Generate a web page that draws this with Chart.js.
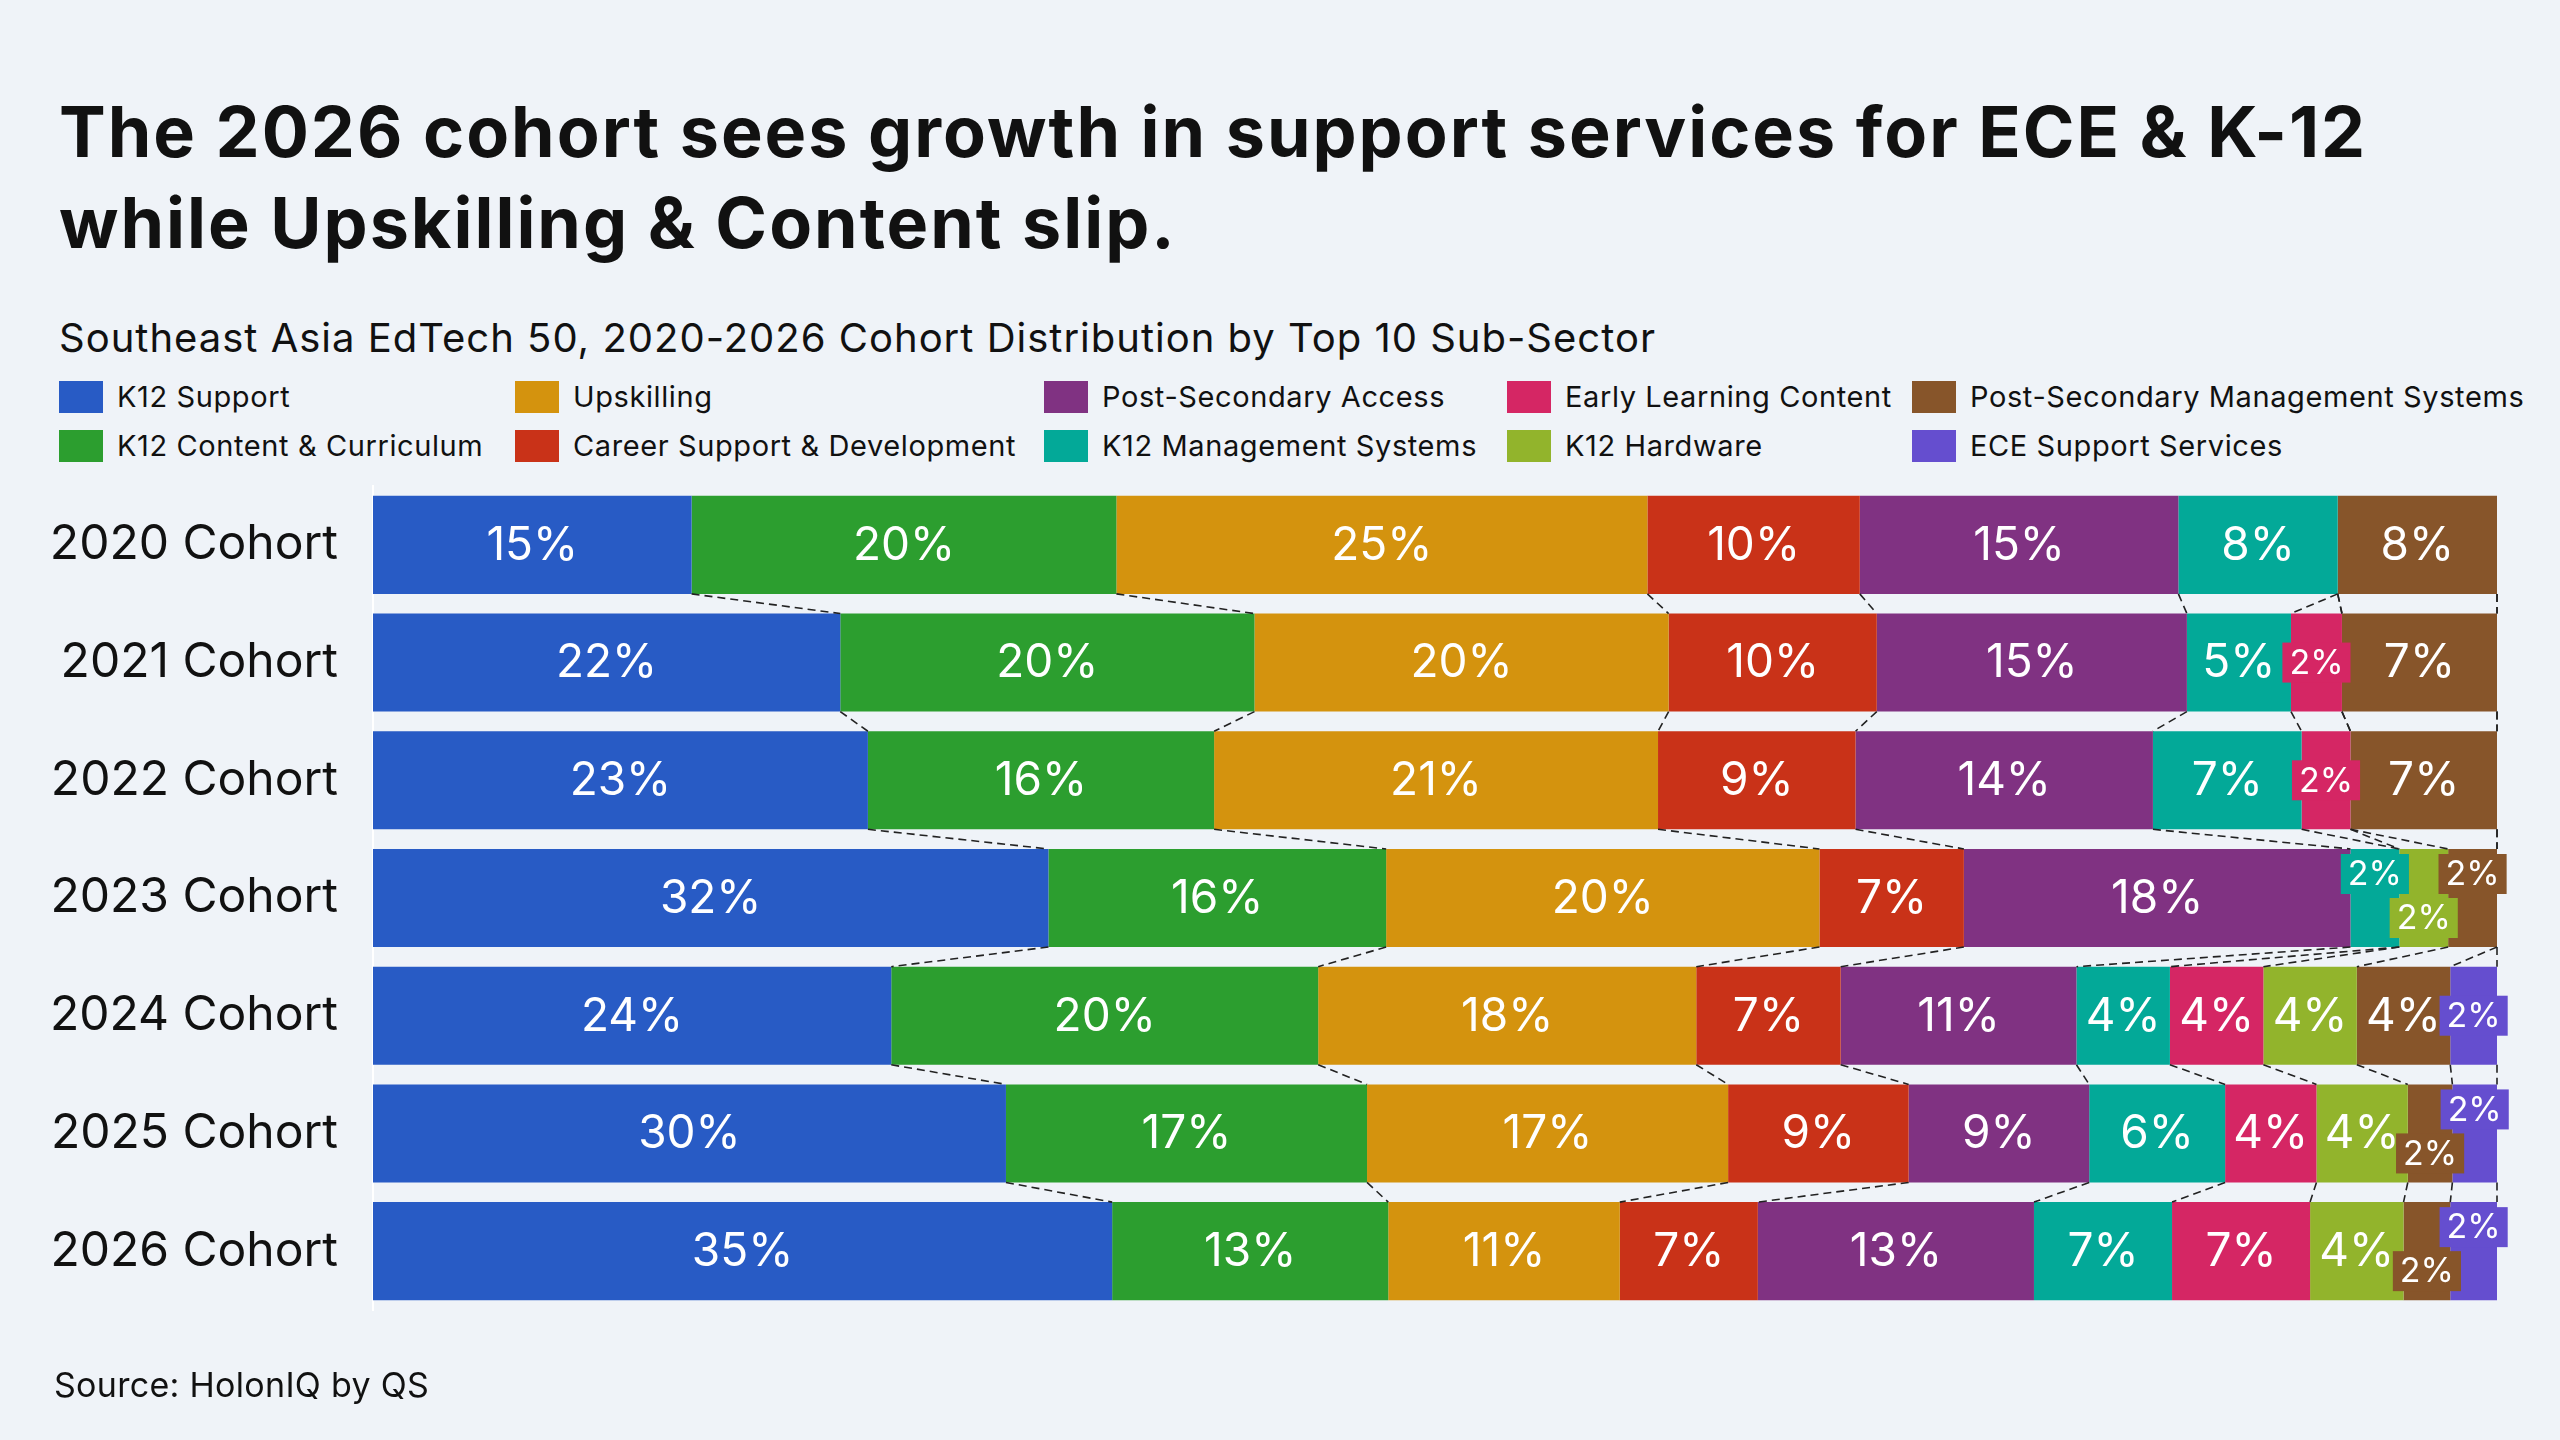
<!DOCTYPE html>
<html>
<head>
<meta charset="utf-8">
<script src="https://cdn.jsdelivr.net/npm/chart.js@4.4.1/dist/chart.umd.min.js"></script>
<style>
  html, body { margin: 0; padding: 0; background: #eff3f8; }
  body { width: 2560px; height: 1440px; position: relative; overflow: hidden;
         font-family: Inter, "Noto Sans", sans-serif; color: #111; }
  #title { position: absolute; left: 59px; top: 86px; margin: 0;
           font-size: 70px; line-height: 91px; font-weight: 700; letter-spacing: 2px; }
  #subtitle { position: absolute; left: 59px; top: 314px; margin: 0;
              font-size: 40px; line-height: 47px; font-weight: 400; letter-spacing: 1px; }
  #legend { position: absolute; left: 59px; top: 381px;
            display: grid; grid-template-columns: 456px 529px 463px 405px auto;
            grid-template-rows: 32px 32px; row-gap: 17px; grid-auto-flow: column; }
  .item { display: flex; align-items: center; font-size: 29px; line-height: 32px;
          letter-spacing: 0.6px; white-space: nowrap; }
  .swatch { width: 44px; height: 32px; margin-right: 14px; flex: none; }
  #source { position: absolute; left: 54px; top: 1365px; font-size: 34px; line-height: 40px; letter-spacing: 0.3px; }
  #wrap { position: absolute; left: 0; top: 0; width: 2560px; height: 1440px; }
</style>
</head>
<body>
<h1 id="title">The 2026 cohort sees growth in support services for ECE &amp; K-12<br>while Upskilling &amp; Content slip.</h1>
<div id="subtitle">Southeast Asia EdTech 50, 2020-2026 Cohort Distribution by Top 10 Sub-Sector</div>
<div id="legend"></div>
<div id="wrap"><canvas id="chart" width="2560" height="1440"></canvas></div>
<div id="source">Source: HolonIQ by QS</div>

<script>
// Cohorts (rows) and sub-sectors (stack order, left to right)
const cohorts = ['2020 Cohort', '2021 Cohort', '2022 Cohort', '2023 Cohort', '2024 Cohort', '2025 Cohort', '2026 Cohort'];
const subSectors = ['K12 Support', 'K12 Content & Curriculum', 'Upskilling', 'Career Support & Development',
  'Post-Secondary Access', 'K12 Management Systems', 'Early Learning Content', 'K12 Hardware',
  'Post-Secondary Management Systems', 'ECE Support Services'];

// Share of each cohort, % (2020 .. 2026)
const k12Support    = [15.0, 22.0, 23.3, 31.8, 24.4, 29.8, 34.8];
const k12Content    = [20.0, 19.5, 16.3, 15.9, 20.1, 17.0, 13.0];
const upskilling    = [25.0, 19.5, 20.9, 20.4, 17.8, 17.0, 10.9];
const careerSupport = [10.0,  9.8,  9.3,  6.8,  6.8,  8.5,  6.5];
const psAccess      = [15.0, 14.6, 14.0, 18.2, 11.1,  8.5, 13.0];
const k12Mgmt       = [ 7.5,  4.9,  7.0,  2.3,  4.4,  6.4,  6.5];
const earlyLearning = [ 0.0,  2.4,  2.3,  0.0,  4.4,  4.3,  6.5];
const k12Hardware   = [ 0.0,  0.0,  0.0,  2.3,  4.4,  4.3,  4.4];
const psMgmt        = [ 7.5,  7.3,  6.9,  2.3,  4.4,  2.1,  2.2];
const eceSupport    = [ 0.0,  0.0,  0.0,  0.0,  2.2,  2.1,  2.2];

const seriesValues = [k12Support, k12Content, upskilling, careerSupport, psAccess,
  k12Mgmt, earlyLearning, k12Hardware, psMgmt, eceSupport];
const colors = ['#285bc5', '#2c9e2f', '#d4930e', '#c93218', '#803282',
  '#03a998', '#d52664', '#92b42c', '#87552a', '#654ecf'];

// HTML legend, two rows filled column by column
const legendEl = document.getElementById('legend');
subSectors.forEach((name, i) => {
  const item = document.createElement('div');
  item.className = 'item';
  const sw = document.createElement('span');
  sw.className = 'swatch';
  sw.style.background = colors[i];
  item.appendChild(sw);
  item.appendChild(document.createTextNode(name));
  legendEl.appendChild(item);
});

const FONT = 'Inter, "Noto Sans", sans-serif';

// dashed lines joining the segment boundaries of neighbouring bars
const connectors = {
  id: 'connectors',
  afterDatasetsDraw(chart) {
    const ctx = chart.ctx;
    const xs = chart.scales.x;
    const ref = chart.getDatasetMeta(0).data;
    ctx.save();
    ctx.strokeStyle = '#222';
    ctx.lineWidth = 1.6;
    ctx.setLineDash([8, 5]);
    for (let i = 0; i < cohorts.length - 1; i++) {
      const y0 = ref[i].y + ref[i].height / 2;
      const y1 = ref[i + 1].y - ref[i + 1].height / 2;
      let c0 = 0, c1 = 0;
      seriesValues.forEach(vals => {
        c0 += vals[i];
        c1 += vals[i + 1];
        ctx.beginPath();
        ctx.moveTo(xs.getPixelForValue(c0), y0);
        ctx.lineTo(xs.getPixelForValue(c1), y1);
        ctx.stroke();
      });
    }
    ctx.restore();
  }
};

// percentage labels inside segments; small ones get a colour box and are staggered
const segmentLabels = {
  id: 'segmentLabels',
  afterDatasetsDraw(chart) {
    const ctx = chart.ctx;
    ctx.save();
    ctx.textAlign = 'center';
    ctx.textBaseline = 'middle';
    for (let i = 0; i < cohorts.length; i++) {
      const segs = [];
      seriesValues.forEach((vals, j) => {
        if (vals[i] > 0) segs.push({ j, v: vals[i], el: chart.getDatasetMeta(j).data[i] });
      });
      segs.forEach(s => { s.small = s.v < 3; s.dy = 0; });
      // stagger runs of small segments, last one goes up
      let k = segs.length - 1;
      while (k >= 0) {
        if (!segs[k].small) { k--; continue; }
        let start = k;
        while (start - 1 >= 0 && segs[start - 1].small) start--;
        if (k > start) {
          for (let m = k, up = true; m >= start; m--, up = !up) segs[m].dy = up ? -24 : 20;
        }
        k = start - 1;
      }
      segs.forEach(s => {
        const el = s.el;
        const cx = (el.x + el.base) / 2;
        const cy = el.y + s.dy;
        const txt = Math.round(s.v) + '%';
        if (s.small) {
          ctx.font = '400 34px ' + FONT;
          const w = ctx.measureText(txt).width + 14;
          ctx.fillStyle = colors[s.j];
          ctx.fillRect(cx - w / 2, cy - 20, w, 40);
          ctx.fillStyle = '#fff';
          ctx.fillText(txt, cx, cy + 1);
        } else {
          ctx.font = '400 46px ' + FONT;
          ctx.fillStyle = '#fff';
          ctx.fillText(txt, cx, el.y + 1);
        }
      });
    }
    ctx.restore();
  }
};

new Chart(document.getElementById('chart'), {
  type: 'bar',
  data: {
    labels: cohorts,
    datasets: subSectors.map((name, j) => ({
      label: name,
      data: seriesValues[j],
      backgroundColor: colors[j],
      borderWidth: 0,
      barPercentage: 0.833,
      categoryPercentage: 1
    }))
  },
  options: {
    indexAxis: 'y',
    responsive: false,
    animation: false,
    devicePixelRatio: 1,
    layout: { padding: { top: 486, bottom: 130, left: 0, right: 63 } },
    plugins: { legend: { display: false }, tooltip: { enabled: false }, title: { display: false } },
    scales: {
      x: { stacked: true, min: 0, max: 100, display: false },
      y: {
        stacked: true,
        grid: { display: false, drawTicks: false },
        border: { display: true, color: '#ffffff', width: 2 },
        ticks: { color: '#111', padding: 35, font: { family: FONT, size: 48 } },
        afterFit(scale) { scale.width = 373; }
      }
    }
  },
  plugins: [connectors, segmentLabels]
});
</script>
</body>
</html>
